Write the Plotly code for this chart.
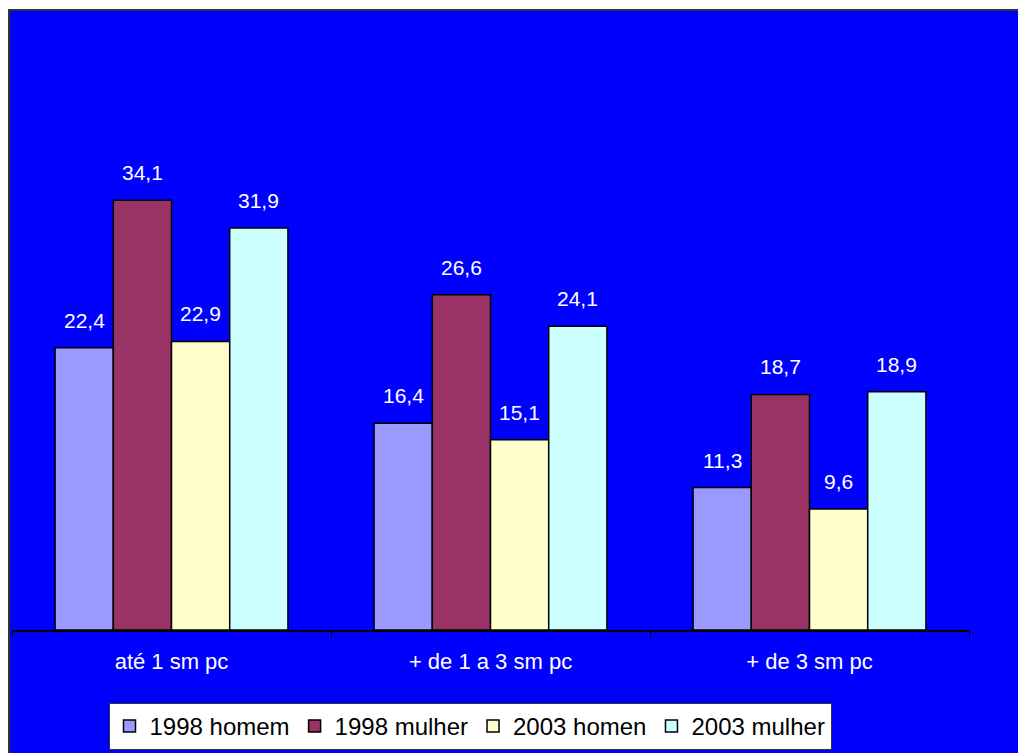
import plotly.graph_objects as go

categories = ["até 1 sm pc", "+ de 1 a 3 sm pc", "+ de 3 sm pc"]
series_names = ["1998 homem", "1998 mulher", "2003 homen", "2003 mulher"]
values_1998_homem = [22.4, 16.4, 11.3]
values_1998_mulher = [34.1, 26.6, 18.7]
values_2003_homen = [22.9, 15.1, 9.6]
values_2003_mulher = [31.9, 24.1, 18.9]
series_values = [values_1998_homem, values_1998_mulher, values_2003_homen, values_2003_mulher]
colors = ["#9999FF", "#993366", "#FFFFCC", "#CCFFFF"]

W, H = 1026, 753
OFF = 8  # page body margin
ML = 12 - OFF
PR = 969 - OFF          # plot right edge (px)
PT = 126 - OFF          # plot top
PB = 630 - OFF          # plot bottom (axis line)
MR = W - PR
MT = PT
MB = H - PB
plot_w = PR - ML
plot_h = PB - PT
YMAX = 40
bargap = 0.27
FONT = "Liberation Sans, Arial, sans-serif"

fig = go.Figure()
for name, vals, col in zip(series_names, series_values, colors):
    fig.add_trace(go.Bar(
        x=categories, y=vals, name=name,
        marker=dict(color=col, line=dict(color="black", width=1.5)),
    ))

# data labels above bars
cat_px = plot_w / len(categories)
bar_w = (1 - bargap) / len(series_names)
for i, vals in enumerate(series_values):
    off = (-(1 - bargap) / 2 + bar_w * (i + 0.5)) * cat_px
    for c, v in zip(categories, vals):
        fig.add_annotation(
            x=c, y=v, xref="x", yref="y", xshift=off, yshift=14,
            text=f"{v:.1f}".replace(".", ","), showarrow=False,
            yanchor="bottom", font=dict(family=FONT, size=21, color="white"),
        )

# blue background panel (target pixels: x 9..1026+, y 10..753+)
def px_x(p):
    return (p - OFF - ML) / plot_w

def px_y(p):
    return (PB - (p - OFF)) / plot_h

fig.add_shape(
    type="rect", xref="paper", yref="paper", layer="below",
    x0=px_x(9), x1=px_x(W + 20),
    y0=px_y(H + 20), y1=px_y(10),
    fillcolor="#0000FF", line=dict(color="#333333", width=2),
)

fig.update_layout(
    width=W, height=H,
    margin=dict(l=ML, r=MR, t=MT, b=MB),
    paper_bgcolor="white", plot_bgcolor="rgba(0,0,0,0)",
    barmode="group", bargap=bargap, bargroupgap=0,
    font=dict(family=FONT, color="white"),
    showlegend=True,
    legend=dict(
        orientation="h", x=px_x(470), xanchor="center",
        y=px_y(703), yanchor="top",
        bgcolor="white", bordercolor="#333333", borderwidth=1,
        font=dict(family=FONT, size=24, color="black"),
        itemwidth=30, tracegroupgap=0,
    ),
    xaxis=dict(
        range=[-0.5, 2.5], showline=True, linecolor="black", linewidth=1.5,
        ticks="outside", tickson="boundaries", ticklen=6, tickcolor="black",
        ticklabelstandoff=11,
        tickfont=dict(family=FONT, size=22, color="white"), showgrid=False,
    ),
    yaxis=dict(range=[0, YMAX], visible=False, showgrid=False),
)

fig.write_html("out.html")
